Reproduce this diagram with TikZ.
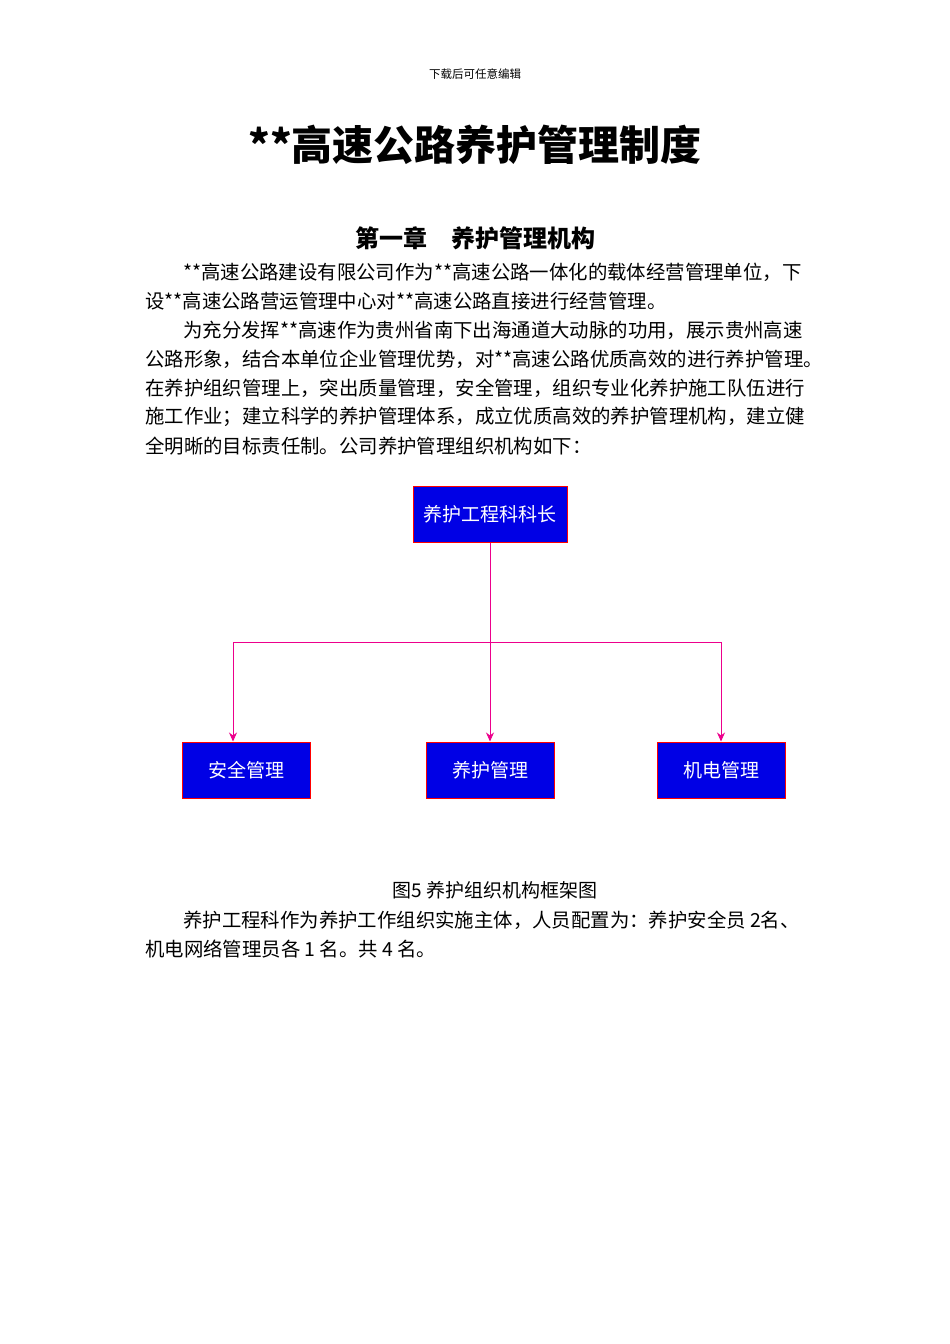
\documentclass[tikz,border=0pt]{standalone}
\usepackage{fontspec}
\setmainfont{Liberation Serif}
\newfontfamily\cjk{Noto Sans CJK SC}
\usetikzlibrary{arrows.meta}
\begin{document}
\begin{tikzpicture}[x=1pt,y=-1pt,
  box/.style={draw=red,line width=1pt,fill=blue!90!black,text=white,font=\cjk\fontsize{19}{19}\selectfont,minimum height=56pt,inner sep=0pt},
  txt/.style={anchor=west,inner sep=0pt,font=\cjk\fontsize{19.4}{19.4}\selectfont},
  link/.style={magenta,line width=0.8pt}]
\useasboundingbox (0,0) rectangle (950,1344);
\node[inner sep=0] (hdr) at (475,74) {\cjk\fontsize{11.5}{11.5}\selectfont 下载后可任意编辑};
\node[inner sep=0] (title) at (475,145) {\cjk\bfseries\fontsize{41}{41}\selectfont **高速公路养护管理制度};
\node[inner sep=0] (ch) at (475,238) {\cjk\bfseries\fontsize{24}{24}\selectfont 第一章\quad 养护管理机构};
\node[txt] (l1) at (183,272) {**高速公路建设有限公司作为**高速公路一体化的载体经营管理单位，下};
\node[txt] (l2) at (145,301) {设**高速公路营运管理中心对**高速公路直接进行经营管理。};
\node[txt] (l3) at (183,330) {为充分发挥**高速作为贵州省南下出海通道大动脉的功用，展示贵州高速};
\node[txt] (l4) at (145,359) {公路形象，结合本单位企业管理优势，对**高速公路优质高效的进行养护管理。};
\node[txt] (l5) at (145,388) {在养护组织管理上，突出质量管理，安全管理，组织专业化养护施工队伍进行};
\node[txt] (l6) at (145,417) {施工作业；建立科学的养护管理体系，成立优质高效的养护管理机构，建立健};
\node[txt] (l7) at (145,446) {全明晰的目标责任制。公司养护管理组织机构如下：};
\node[box,minimum width=154pt] (top) at (490,514) {养护工程科科长};
\node[box,minimum width=128pt] (b1) at (246,770) {安全管理};
\node[box,minimum width=128pt] (b2) at (490,770) {养护管理};
\node[box,minimum width=128pt] (b3) at (721,770) {机电管理};
\coordinate (j) at (490,642);
\draw[link,-{Stealth[length=9pt,width=8pt]}] (top.south) -- (b2.north);
\draw[link,-{Stealth[length=9pt,width=8pt]}] (j) -| (b1.north -| 233,0);
\draw[link,-{Stealth[length=9pt,width=8pt]}] (j) -| (b3.north);
\node[inner sep=0] (cap) at (495,890) {\cjk\fontsize{19}{19}\selectfont 图5 养护组织机构框架图};
\node[txt] (m1) at (183,920) {养护工程科作为养护工作组织实施主体，人员配置为：养护安全员 2名、};
\node[txt] (m2) at (145,949) {机电网络管理员各 1 名。共 4 名。};
\end{tikzpicture}
\end{document}
